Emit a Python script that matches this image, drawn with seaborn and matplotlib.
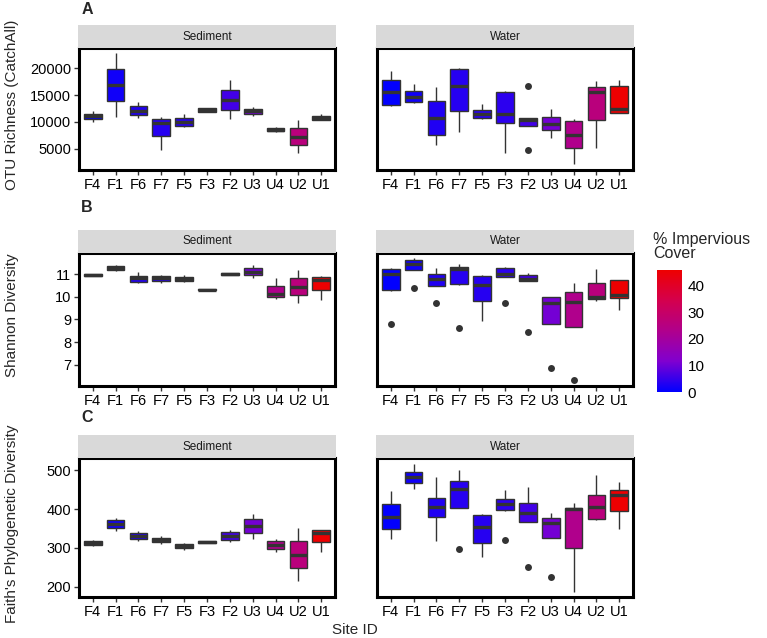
import numpy as np
import pandas as pd
import seaborn as sns
import matplotlib.pyplot as plt
from matplotlib.colors import LinearSegmentedColormap, Normalize
from matplotlib.cm import ScalarMappable

sns.set_style("white")
plt.rcParams['font.family'] = ['Liberation Sans', 'DejaVu Sans']

sites = ['F4', 'F1', 'F6', 'F7', 'F5', 'F3', 'F2', 'U3', 'U4', 'U2', 'U1']
cover = [0.3, 1.5, 3.0, 3.5, 3.5, 4.0, 6.0, 10.5, 23.0, 26.0, 45.8]

# five-number summaries per site: lower whisker, q1, median, q3, upper whisker
rich_sed = [[10000, 10450, 11000, 11550, 12000], [10950, 13900, 16950, 19900, 22900],
            [10780, 11200, 12070, 12870, 13740], [4780, 7310, 9850, 10520, 10890],
            [9110, 9300, 9960, 10650, 11390], [11760, 11890, 12190, 12500, 12630],
            [10460, 12260, 14170, 16020, 17740], [11020, 11390, 12000, 12440, 12740],
            [8180, 8300, 8550, 8800, 8980], [4170, 5590, 7260, 8800, 10280],
            [10280, 10330, 10700, 11150, 11440]]
rich_wat = [[13000, 13190, 15520, 17870, 19410], [13610, 13740, 14670, 15780, 17000],
            [5650, 7630, 10780, 13980, 16440], [8180, 12000, 16760, 19960, 19970],
            [10460, 10700, 11440, 12130, 13370], [4170, 9720, 11390, 15520, 15830],
            [9250, 9300, 10300, 10780, 10800], [7070, 8560, 9670, 10960, 12440],
            [2070, 5040, 7560, 10090, 10460], [5040, 10410, 15590, 16440, 17560],
            [11570, 11700, 12310, 16630, 17870]]
rich_wat_out = {'F2': [16760, 4720]}

shan_sed = [[10.92, 10.93, 10.98, 11.03, 11.04], [11.13, 11.18, 11.28, 11.37, 11.41],
            [10.63, 10.66, 10.83, 10.92, 11.09], [10.63, 10.73, 10.85, 10.94, 10.99],
            [10.66, 10.69, 10.78, 10.88, 10.96], [10.31, 10.32, 10.33, 10.35, 10.36],
            [10.96, 10.97, 11.00, 11.05, 11.06], [10.85, 10.96, 11.12, 11.30, 11.41],
            [9.92, 9.99, 10.15, 10.48, 10.82], [9.71, 10.07, 10.45, 10.82, 11.18],
            [9.86, 10.32, 10.75, 10.90, 10.94]]
shan_wat = [[10.28, 10.29, 11.00, 11.22, 11.30], [11.18, 11.19, 11.44, 11.64, 11.74],
            [10.49, 10.50, 10.78, 11.04, 11.30], [10.55, 10.56, 11.22, 11.34, 11.48],
            [8.92, 9.81, 10.51, 10.91, 10.97], [10.87, 10.88, 11.00, 11.27, 11.32],
            [10.69, 10.70, 10.78, 10.96, 11.06], [8.80, 8.81, 9.74, 9.99, 10.00],
            [8.67, 8.68, 9.79, 10.23, 10.63], [9.83, 9.89, 9.99, 10.63, 11.25],
            [9.40, 9.95, 10.07, 10.75, 10.77]]
shan_wat_out = {'F4': [8.78], 'F1': [10.38], 'F6': [9.71], 'F7': [8.61],
                'F3': [9.74], 'F2': [8.45], 'U3': [6.87], 'U4': [6.30]}

faith_sed = [[305, 307, 312, 318, 321], [344, 351, 362, 371, 378],
             [318, 322, 331, 338, 344], [311, 314, 321, 326, 330],
             [295, 299, 305, 310, 312], [312, 313, 316, 318, 319],
             [316, 321, 331, 340, 346], [323, 338, 356, 374, 388],
             [289, 298, 308, 318, 323], [214, 248, 283, 319, 352],
             [290, 315, 338, 345, 346]]
faith_wat = [[324, 348, 379, 413, 445], [451, 468, 483, 495, 515],
             [319, 379, 406, 428, 482], [402, 403, 452, 473, 501],
             [276, 313, 355, 384, 386], [396, 397, 412, 425, 450],
             [366, 367, 391, 415, 456], [325, 326, 363, 378, 389],
             [188, 301, 399, 403, 415], [371, 375, 406, 437, 487],
             [349, 396, 436, 449, 470]]
faith_wat_out = {'F7': [297], 'F3': [321], 'F2': [251], 'U3': [226]}

cmap = LinearSegmentedColormap.from_list(
    'imp', ['#0000FF', '#8000D0', '#B0008C', '#D4004E', '#EE0000'])
norm = Normalize(0, 46)
pal = {s: cmap(norm(c)) for s, c in zip(sites, cover)}

W, H = 767, 638
fig = plt.figure(figsize=(W / 100, H / 100), dpi=100)


def px(x0, y0, x1, y1):
    return [x0 / W, 1 - y1 / H, (x1 - x0) / W, (y1 - y0) / H]


def long_df(summ):
    rows = [(s, v) for s, vals in zip(sites, summ) for v in vals]
    return pd.DataFrame(rows, columns=['site', 'val'])


rows = [
    ('A', 'OTU Richness (CatchAll)', rich_sed, rich_wat, {}, rich_wat_out,
     (1000, 23800), [5000, 10000, 15000, 20000], 48, 170, 10),
    ('B', 'Shannon Diversity', shan_sed, shan_wat, {}, shan_wat_out,
     (6.05, 11.95), [7, 8, 9, 10, 11], 253, 386, 208),
    ('C', "Faith's Phylogenetic Diversity", faith_sed, faith_wat, {}, faith_wat_out,
     (174, 531), [200, 300, 400, 500], 458, 597, 418),
]
cols = [(79, 335, 'Sediment'), (377, 633, 'Water')]

for letter, ylab, sed, wat, out_sed, out_wat, ylim, yticks, top, bot, ly in rows:
    for ci, ((x0, x1, name), summ, outs) in enumerate(zip(cols, [sed, wat], [out_sed, out_wat])):
        ax = fig.add_axes(px(x0, top, x1, bot))
        sns.boxplot(data=long_df(summ), x='site', y='val', hue='site', order=sites,
                    hue_order=sites, palette=pal, saturation=1, whis=(0, 100),
                    width=0.78, linecolor='#333333', linewidth=1, fliersize=0,
                    showcaps=False, medianprops={'linewidth': 2.4},
                    legend=False, ax=ax)
        if outs:
            odf = pd.DataFrame([(s, v) for s, vs in outs.items() for v in vs],
                               columns=['site', 'val'])
            sns.stripplot(data=odf, x='site', y='val', order=sites, jitter=False,
                          color='#333333', size=5, ax=ax)
        ax.set_ylim(*ylim)
        ax.set_yticks(yticks)
        ax.set_xlim(-0.6, len(sites) - 0.4)
        ax.set_xlabel('')
        ax.set_ylabel('')
        for sp in ax.spines.values():
            sp.set_linewidth(2.2)
            sp.set_color('black')
        ax.tick_params(axis='x', bottom=True, length=3.5, width=1, color='#333333',
                       labelsize=10.5, labelcolor='black', pad=2)
        if ci == 0:
            ax.tick_params(axis='y', left=True, length=3.5, width=1, color='#333333',
                           labelsize=10.5, labelcolor='black', pad=2)
        else:
            ax.tick_params(axis='y', left=False, labelleft=False)
        sax = fig.add_axes(px(x0 - 1, top - 23, x1 + 1, top))
        sax.set_facecolor('#D9D9D9')
        sax.set_xticks([])
        sax.set_yticks([])
        for sp in sax.spines.values():
            sp.set_visible(False)
        sax.text(0.5, 0.5, name, ha='center', va='center', fontsize=8.5,
                 color='#1A1A1A', transform=sax.transAxes)
    fig.text(87 / W, 1 - ly / H, letter, fontsize=11.5, fontweight='bold',
             ha='center', va='center')
    fig.text(12 / W, 1 - ((top + bot) / 2 - 4) / H, ylab, rotation=90, fontsize=11,
             ha='center', va='center')

fig.text(355 / W, 1 - 630 / H, 'Site ID', fontsize=11, ha='center', va='center')

cax = fig.add_axes(px(657, 270, 682, 392))
cb = fig.colorbar(ScalarMappable(norm=norm, cmap=cmap), cax=cax, ticks=[0, 10, 20, 30, 40])
cb.outline.set_visible(False)
cax.tick_params(axis='y', direction='in', length=5, width=0.8, colors='white',
                left=True, right=True, labelsize=11, labelcolor='black', pad=4)
fig.text(653 / W, 1 - 232 / H, '% Impervious\nCover', fontsize=11.5, ha='left',
         va='top', linespacing=0.95)

fig.savefig('out.png', dpi=100)
